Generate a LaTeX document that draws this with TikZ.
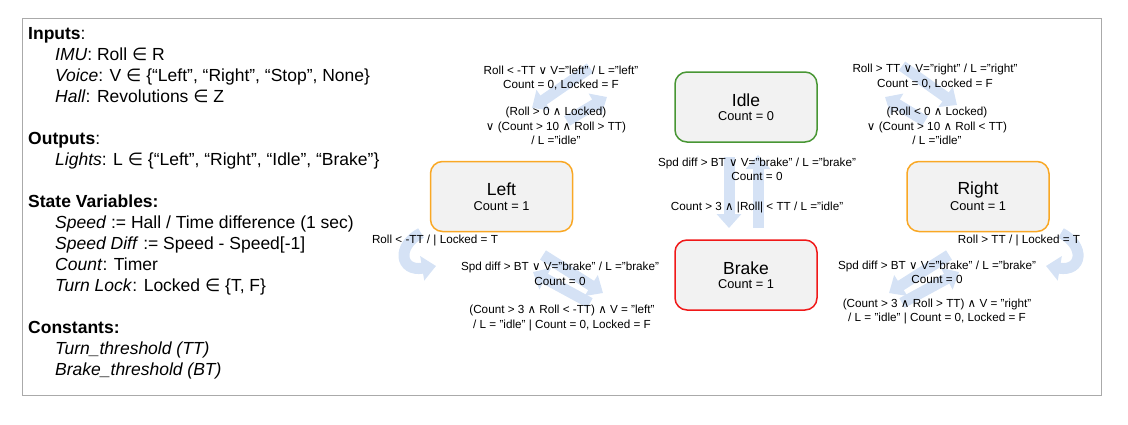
\documentclass[tikz,border=0pt]{standalone}
\usepackage{fontspec}
\setmainfont{Liberation Sans}
\newfontfamily\symf{DejaVu Sans}
\usetikzlibrary{arrows.meta}
\definecolor{nodefill}{RGB}{242,242,242}
\definecolor{idlegreen}{RGB}{72,150,52}
\definecolor{turnorange}{RGB}{249,168,37}
\definecolor{brakered}{RGB}{240,24,24}
\definecolor{flowblue}{RGB}{213,226,245}
\definecolor{framegray}{RGB}{170,170,170}
\newcommand{\myin}{{\symf ∈}}
\newcommand{\myor}{{\symf ∨}}
\newcommand{\myand}{{\symf ∧}}
\newcommand{\sttitle}[1]{{\fontsize{17.5}{20}\selectfont #1}}
\newcommand{\stsub}[1]{{\fontsize{12.8}{15}\selectfont #1}}
\begin{document}
\begin{tikzpicture}[x=1pt,y=-1pt,
  state/.style={draw, line width=1.5pt, fill=nodefill, rounded corners=12pt,
    minimum width=142pt, minimum height=70pt, align=center, inner sep=0pt},
  lbl/.style={align=center, font=\fontsize{11.7}{14.5}\selectfont, inner sep=0pt},
  flow/.style={draw=flowblue, line width=11pt, -{Triangle[width=24pt,length=14pt]}},
  legend/.style={anchor=base west, inner sep=0pt, font=\fontsize{17.5}{21}\selectfont}]
\useasboundingbox (0,0) rectangle (1128,424);
\draw[framegray, line width=1pt] (22,18) rectangle (1101,395);

% legend
\node[legend] (l1) at (28,39.5) {\textbf{Inputs}:};
\node[legend] (l2) at (55,60.5) {\textit{IMU}: Roll \myin{} R};
\node[legend] (l3) at (55,81.5) {\textit{Voice}: V \myin{} \{“Left”, “Right”, “Stop”, None\}};
\node[legend] (l4) at (55,102.5) {\textit{Hall}: Revolutions \myin{} Z};
\node[legend] (l5) at (28,144.5) {\textbf{Outputs}:};
\node[legend] (l6) at (55,165.5) {\textit{Lights}: L \myin{} \{“Left”, “Right”, “Idle”, “Brake”\}};
\node[legend] (l7) at (28,207.5) {\textbf{State Variables:}};
\node[legend] (l8) at (55,228.5) {\textit{Speed} := Hall / Time difference (1 sec)};
\node[legend] (l9) at (55,249.5) {\textit{Speed Diff} := Speed - Speed[-1]};
\node[legend] (l10) at (55,270.5) {\textit{Count}: Timer};
\node[legend] (l11) at (55,291.5) {\textit{Turn Lock}: Locked \myin{} \{T, F\}};
\node[legend] (l12) at (28,333.5) {\textbf{Constants:}};
\node[legend] (l13) at (55,354.5) {\textit{Turn\_threshold (TT)}};
\node[legend] (l14) at (55,375.5) {\textit{Brake\_threshold (BT)}};

% arrow end points
\coordinate (il1) at (590,68);  \coordinate (il2) at (532,108);
\coordinate (li1) at (567,121); \coordinate (li2) at (607,97);
\coordinate (ir1) at (902,66);  \coordinate (ir2) at (957,105);
\coordinate (ri1) at (925,121); \coordinate (ri2) at (885,97);
\coordinate (ib1) at (729,157); \coordinate (ib2) at (729,228);
\coordinate (bi1) at (758,228); \coordinate (bi2) at (758,155);
\coordinate (lb1) at (543,255); \coordinate (lb2) at (603,293);
\coordinate (bl1) at (590,303); \coordinate (bl2) at (533,272);
\coordinate (rb1) at (949,255); \coordinate (rb2) at (889,293);
\coordinate (br1) at (902,303); \coordinate (br2) at (959,272);
\coordinate (ll1) at (421,233); \coordinate (ll2) at (436,266);
\coordinate (rr1) at (1061,233); \coordinate (rr2) at (1046,266);

\draw[flow] (il1) -- (il2);
\draw[flow] (li1) -- (li2);
\draw[flow] (ir1) -- (ir2);
\draw[flow] (ri1) -- (ri2);
\draw[flow] (ib1) -- (ib2);
\draw[flow] (bi1) -- (bi2);
\draw[flow] (lb1) -- (lb2);
\draw[flow] (bl1) -- (bl2);
\draw[flow] (rb1) -- (rb2);
\draw[flow] (br1) -- (br2);
\draw[flow] (ll1) .. controls (396,246) and (400,272) .. (ll2);
\draw[flow] (rr1) .. controls (1086,246) and (1082,272) .. (rr2);

% states
\node[state, draw=idlegreen] (idle) at (746,107) {\sttitle{Idle}\\[2.5pt]\stsub{Count = 0}};
\node[state, draw=turnorange] (left) at (501.5,196.5) {\sttitle{Left}\\[2.5pt]\stsub{Count = 1}};
\node[state, draw=turnorange] (right) at (978,196.5) {\sttitle{Right}\\[2.5pt]\stsub{Count = 1}};
\node[state, draw=brakered] (brake) at (746,275) {\sttitle{Brake}\\[2.5pt]\stsub{Count = 1}};

% labels
\node[lbl] (t1) at (561,78) {Roll < -TT \myor{} V="left" / L ="left"\\Count = 0, Locked = F};
\node[lbl] (t2) at (556,126) {(Roll > 0 \myand{} Locked)\\\myor{} (Count > 10 \myand{} Roll > TT)\\/ L ="idle"};
\node[lbl] (t3) at (935,76.5) {Roll > TT \myor{} V="right" / L ="right"\\Count = 0, Locked = F};
\node[lbl] (t4) at (937,126) {(Roll < 0 \myand{} Locked)\\\myor{} (Count > 10 \myand{} Roll < TT)\\/ L ="idle"};
\node[lbl] (t5) at (757,169.5) {Spd diff > BT \myor{} V="brake" / L ="brake"\\Count = 0};
\node[lbl] (t6) at (757,207) {Count > 3 \myand{} |Roll| < TT / L ="idle"};
\node[lbl] (t7) at (435,240) {Roll < -TT / | Locked = T};
\node[lbl] (t8) at (1019,240) {Roll > TT / | Locked = T};
\node[lbl] (t9) at (560,274) {Spd diff > BT \myor{} V="brake" / L ="brake"\\Count = 0};
\node[lbl] (t10) at (562,318) {(Count > 3 \myand{} Roll < -TT) \myand{} V = "left"\\/ L = "idle" | Count = 0, Locked = F};
\node[lbl] (t11) at (937,272.5) {Spd diff > BT \myor{} V="brake" / L ="brake"\\Count = 0};
\node[lbl] (t12) at (937,311.5) {(Count > 3 \myand{} Roll > TT) \myand{} V = "right"\\/ L = "idle" | Count = 0, Locked = F};
\end{tikzpicture}
\end{document}
